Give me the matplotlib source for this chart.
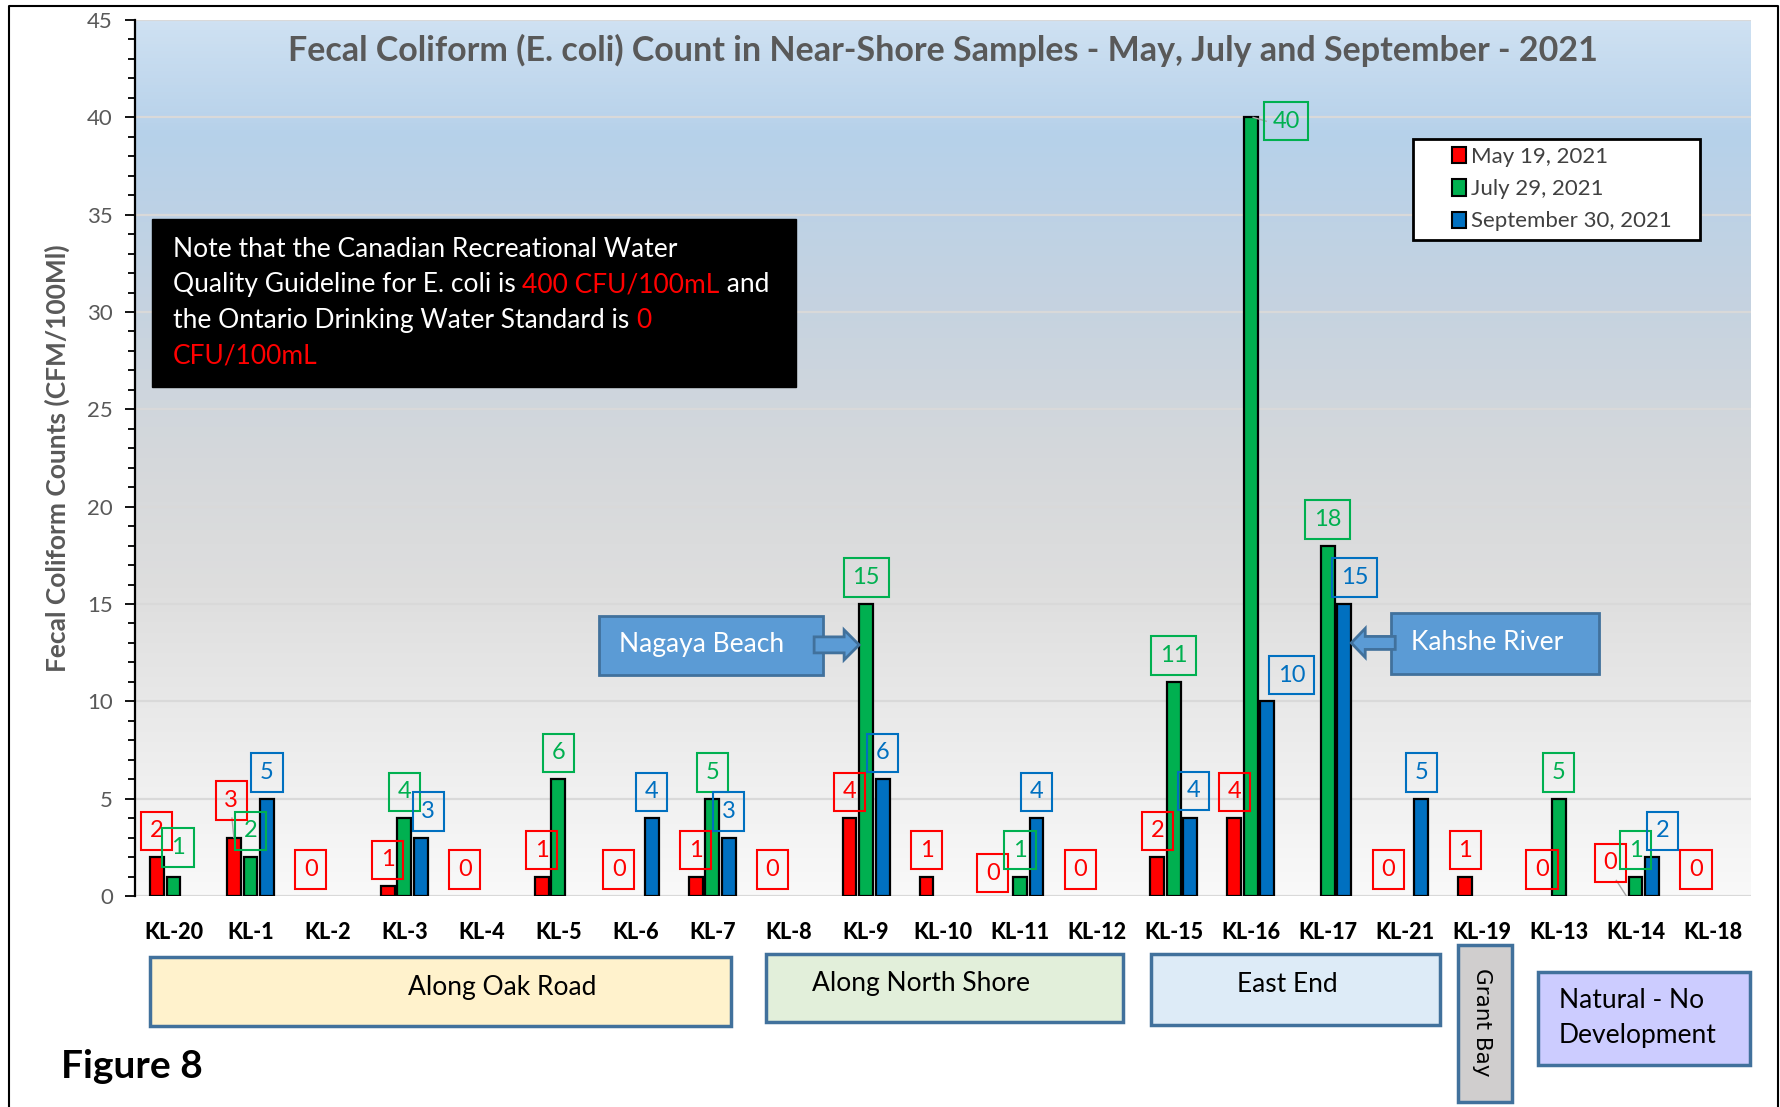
import numpy as np
import matplotlib.pyplot as plt
from matplotlib.colors import LinearSegmentedColormap
from matplotlib.patches import Rectangle, Polygon, Patch

plt.rcParams['font.family'] = ['Lato', 'DejaVu Sans']

# data
sites = ["KL-20", "KL-1", "KL-2", "KL-3", "KL-4", "KL-5", "KL-6", "KL-7", "KL-8", "KL-9", "KL-10",
         "KL-11", "KL-12", "KL-15", "KL-16", "KL-17", "KL-21", "KL-19", "KL-13", "KL-14", "KL-18"]
may = [2, 3, 0, 0.5, 0, 1, 0, 1, 0, 4, 1, 0, 0, 2, 4, None, 0, 1, 0, 0, 0]
may_labels = ["2", "3", "0", "1", "0", "1", "0", "1", "0", "4", "1", "0", "0", "2", "4", None,
              "0", "1", "0", "0", "0"]
july = [1, 2, None, 4, None, 6, None, 5, None, 15, None, 1, None, 11, 40, 18, None, None, 5, 1, None]
sept = [None, 5, None, 3, None, None, 4, 3, None, 6, None, 4, None, 4, 10, 15, 5, None, None, 2, None]
series_names = ["May 19, 2021", "July 29, 2021", "September 30, 2021"]
series_colors = ["#FF0000", "#00B050", "#0070C0"]

# manual label nudges (dx in categories, dy in counts), like the moved labels in the original
nudges = [
    {1: (-0.035, 0.55), 11: (-0.14, -0.18), 19: (-0.11, 0.35)},
    {0: (0.06, 0.15), 14: (0.457, -1.55)},
    {3: (0.095, 0), 13: (0.035, 0.05), 14: (0.315, 0), 15: (0.135, 0), 19: (0.135, 0)},
]

W, H = 1781, 1107


def fx(x):
    return x / W


def fy(y):
    return 1 - y / H


fig = plt.figure(figsize=(W / 100, H / 100), dpi=100)
ax = fig.add_axes([fx(135), fy(896), (1751 - 135) / W, (896 - 20) / H])

# plot area gradient
cm = LinearSegmentedColormap.from_list("bg", [
    (0.0, "#F9F9F9"), (0.15, "#EEEEEE"), (0.35, "#DEDEDE"), (0.5, "#D5D8DB"),
    (0.67, "#C6D3E0"), (0.87, "#B6D1EA"), (1.0, "#CFE1F2")])
ax.imshow(np.linspace(0, 1, 256).reshape(-1, 1), origin="lower", extent=[-0.5, 20.5, 0, 45],
          aspect="auto", cmap=cm, zorder=0)

x = np.arange(len(sites))
bw = 0.18
offsets = [-0.215, 0, 0.215]
all_vals = [may, july, sept]
all_labels = [may_labels, [None if v is None else str(v) for v in july],
              [None if v is None else str(v) for v in sept]]

for k, (vals, labs, col) in enumerate(zip(all_vals, all_labels, series_colors)):
    xs = [x[i] + offsets[k] for i, v in enumerate(vals) if v]
    hs = [v for v in vals if v]
    ax.bar(xs, hs, width=bw, color=col, edgecolor="black", linewidth=1.6, zorder=3)
    for i, (v, lab) in enumerate(zip(vals, labs)):
        if lab is None:
            continue
        dx, dy = nudges[k].get(i, (0, 0))
        ax.text(x[i] + offsets[k] + dx, v + 1.35 + dy, lab, color=col, fontsize=17,
                ha="center", va="center", zorder=5,
                bbox=dict(boxstyle="square,pad=0.37", facecolor="none", edgecolor=col, linewidth=1.5))

# leader lines for moved labels
ax.plot([1 - 0.24, 1 - 0.215], [4.0, 3.0], color="#A6A6A6", lw=1, zorder=4)
ax.plot([19 - 0.25, 19 - 0.12], [0.8, 0.0], color="#A6A6A6", lw=1, zorder=4)
ax.plot([14.03, 14.2], [40, 39.8], color="#A6A6A6", lw=1, zorder=4)

ax.set_xlim(-0.5, 20.5)
ax.set_ylim(0, 45)
ax.set_yticks(np.arange(0, 46, 5))
ax.set_yticks(np.arange(0, 46, 1), minor=True)
ax.set_xticks(x)
ax.set_xticklabels(sites, fontsize=15.5, fontweight="black", color="black")
ax.tick_params(axis="x", length=0, pad=19)
ax.tick_params(axis="y", which="major", length=7, width=1.3, labelsize=16, labelcolor="#595959", pad=9)
ax.tick_params(axis="y", which="minor", length=5, width=1.3)
ax.grid(axis="y", color="#D9D9D9", linewidth=1.6)
ax.set_axisbelow(True)
for s in ["top", "right", "bottom"]:
    ax.spines[s].set_visible(False)
ax.spines["left"].set_linewidth(1.6)

ax.set_ylabel("Fecal Coliform Counts (CFM/100Ml)", fontsize=19, fontweight="bold", color="#595959",
              labelpad=12)
ax.text(0.5, 0.965, "Fecal Coliform (E. coli) Count in Near-Shore Samples - May, July and September - 2021",
        transform=ax.transAxes, ha="center", va="center", fontsize=24.5, fontweight="bold",
        color="#595959", zorder=6)

# legend: white framed box with the entries inset from its left edge
ax.add_patch(Rectangle((fx(1413), fy(240)), (1700 - 1413) / W, (240 - 139) / H,
                       transform=fig.transFigure, facecolor="white", edgecolor="black",
                       linewidth=2, zorder=9))
handles = [Patch(facecolor=c, edgecolor="black", linewidth=1.5) for c in series_colors]
leg = ax.legend(handles, series_names, loc="upper left", bbox_to_anchor=(fx(1452), fy(147)),
                bbox_transform=fig.transFigure, fontsize=16, frameon=False,
                handlelength=0.65, handleheight=0.75, handletextpad=0.2, labelspacing=0.55,
                borderpad=0, borderaxespad=0)
leg.set_zorder(10)
for t in leg.get_texts():
    t.set_color("#404040")

# callouts
sx = 21 / 1616
sy = 45 / 876


def callout(tip, box, arrow, text, text_x):
    tx, ty = tip
    bx0, bx1, by0, by1 = box
    ax.add_patch(Rectangle((tx + bx0 * sx, ty + by0 * sy), (bx1 - bx0) * sx, (by1 - by0) * sy,
                           facecolor="#5B9BD5", edgecolor="#41719C", linewidth=2, zorder=6))
    ax.add_patch(Polygon([(tx + px * sx, ty + py * sy) for px, py in arrow], closed=True,
                         facecolor="#5B9BD5", edgecolor="#41719C", linewidth=2, zorder=7))
    ax.text(tx + text_x * sx, ty, text, color="white", fontsize=19, ha="left", va="center", zorder=8)


callout((9 - bw / 2, 12.9), (-260, -36, -30, 29),
        [(0, 0), (-15, 15), (-15, 8), (-45, 8), (-45, -8), (-15, -8), (-15, -15)],
        "Nagaya Beach", -240)
callout((15 + offsets[2] + bw / 2, 13.0), (40, 248, -31, 30),
        [(0, 0), (14, 14.5), (14, 6.5), (44, 6.5), (44, -6.5), (14, -6.5), (14, -14.5)],
        "Kahshe River", 60)

# note box with mixed colour text
fig.add_artist(Rectangle((fx(152), fy(387)), (796 - 152) / W, (387 - 219) / H,
                         transform=fig.transFigure, facecolor="black", edgecolor="black", zorder=6))
renderer = fig.canvas.get_renderer()


def text_width(s, **kw):
    t = fig.text(0, 0, s + "|", **kw)
    w = t.get_window_extent(renderer).width
    t.remove()
    t = fig.text(0, 0, "|", **kw)
    w -= t.get_window_extent(renderer).width
    t.remove()
    return w


note_lines = [
    [("Note that the Canadian Recreational Water", "white")],
    [("Quality Guideline for E. coli is ", "white"), ("400 CFU/100mL", "#FF0000"), (" and", "white")],
    [("the Ontario Drinking Water Standard is ", "white"), ("0", "#FF0000")],
    [("CFU/100mL", "#FF0000")],
]
for j, parts in enumerate(note_lines):
    xpos = 173
    for s, c in parts:
        fig.text(fx(xpos), fy(257 + 35.5 * j), s, color=c, fontsize=19, ha="left", va="baseline", zorder=7)
        xpos += text_width(s, fontsize=19)

# region boxes under the axis
regions = [
    ("Along Oak Road", (150, 731, 957, 1026), "#FFF2CC", (502, 987)),
    ("Along North Shore", (766, 1123, 954, 1022), "#E2EFDA", (921, 984)),
    ("East End", (1151, 1440, 954, 1025), "#DDEBF7", (1287, 984)),
]
for name, (x0, x1, y0, y1), fc, (tx, ty) in regions:
    fig.add_artist(Rectangle((fx(x0), fy(y1)), (x1 - x0) / W, (y1 - y0) / H, transform=fig.transFigure,
                             facecolor=fc, edgecolor="#41719C", linewidth=2.5))
    fig.text(fx(tx), fy(ty), name, fontsize=19, ha="center", va="center", color="black")

fig.add_artist(Rectangle((fx(1458), fy(1102)), 54 / W, 157 / H, transform=fig.transFigure,
                         facecolor="#D0CECE", edgecolor="#41719C", linewidth=2.5))
fig.text(fx(1482), fy(1022), "Grant Bay", fontsize=15.5, family="DejaVu Sans", rotation=-90,
         ha="center", va="center", color="black")
fig.add_artist(Rectangle((fx(1538), fy(1065)), 212 / W, 93 / H, transform=fig.transFigure,
                         facecolor="#CCCCFF", edgecolor="#41719C", linewidth=2.5))
fig.text(fx(1559), fy(1000), "Natural - No", fontsize=19, ha="left", va="center", color="black")
fig.text(fx(1559), fy(1035), "Development", fontsize=19, ha="left", va="center", color="black")

fig.text(fx(61), fy(1066), "Figure 8", fontsize=28, fontweight="bold", ha="left", va="center")

# outer frame
fig.add_artist(plt.Line2D([fx(9), fx(9), fx(1778), fx(1778)], [0, fy(6), fy(6), 0],
                          transform=fig.transFigure, color="black", linewidth=1.5))

fig.savefig("out.png", dpi=100)
